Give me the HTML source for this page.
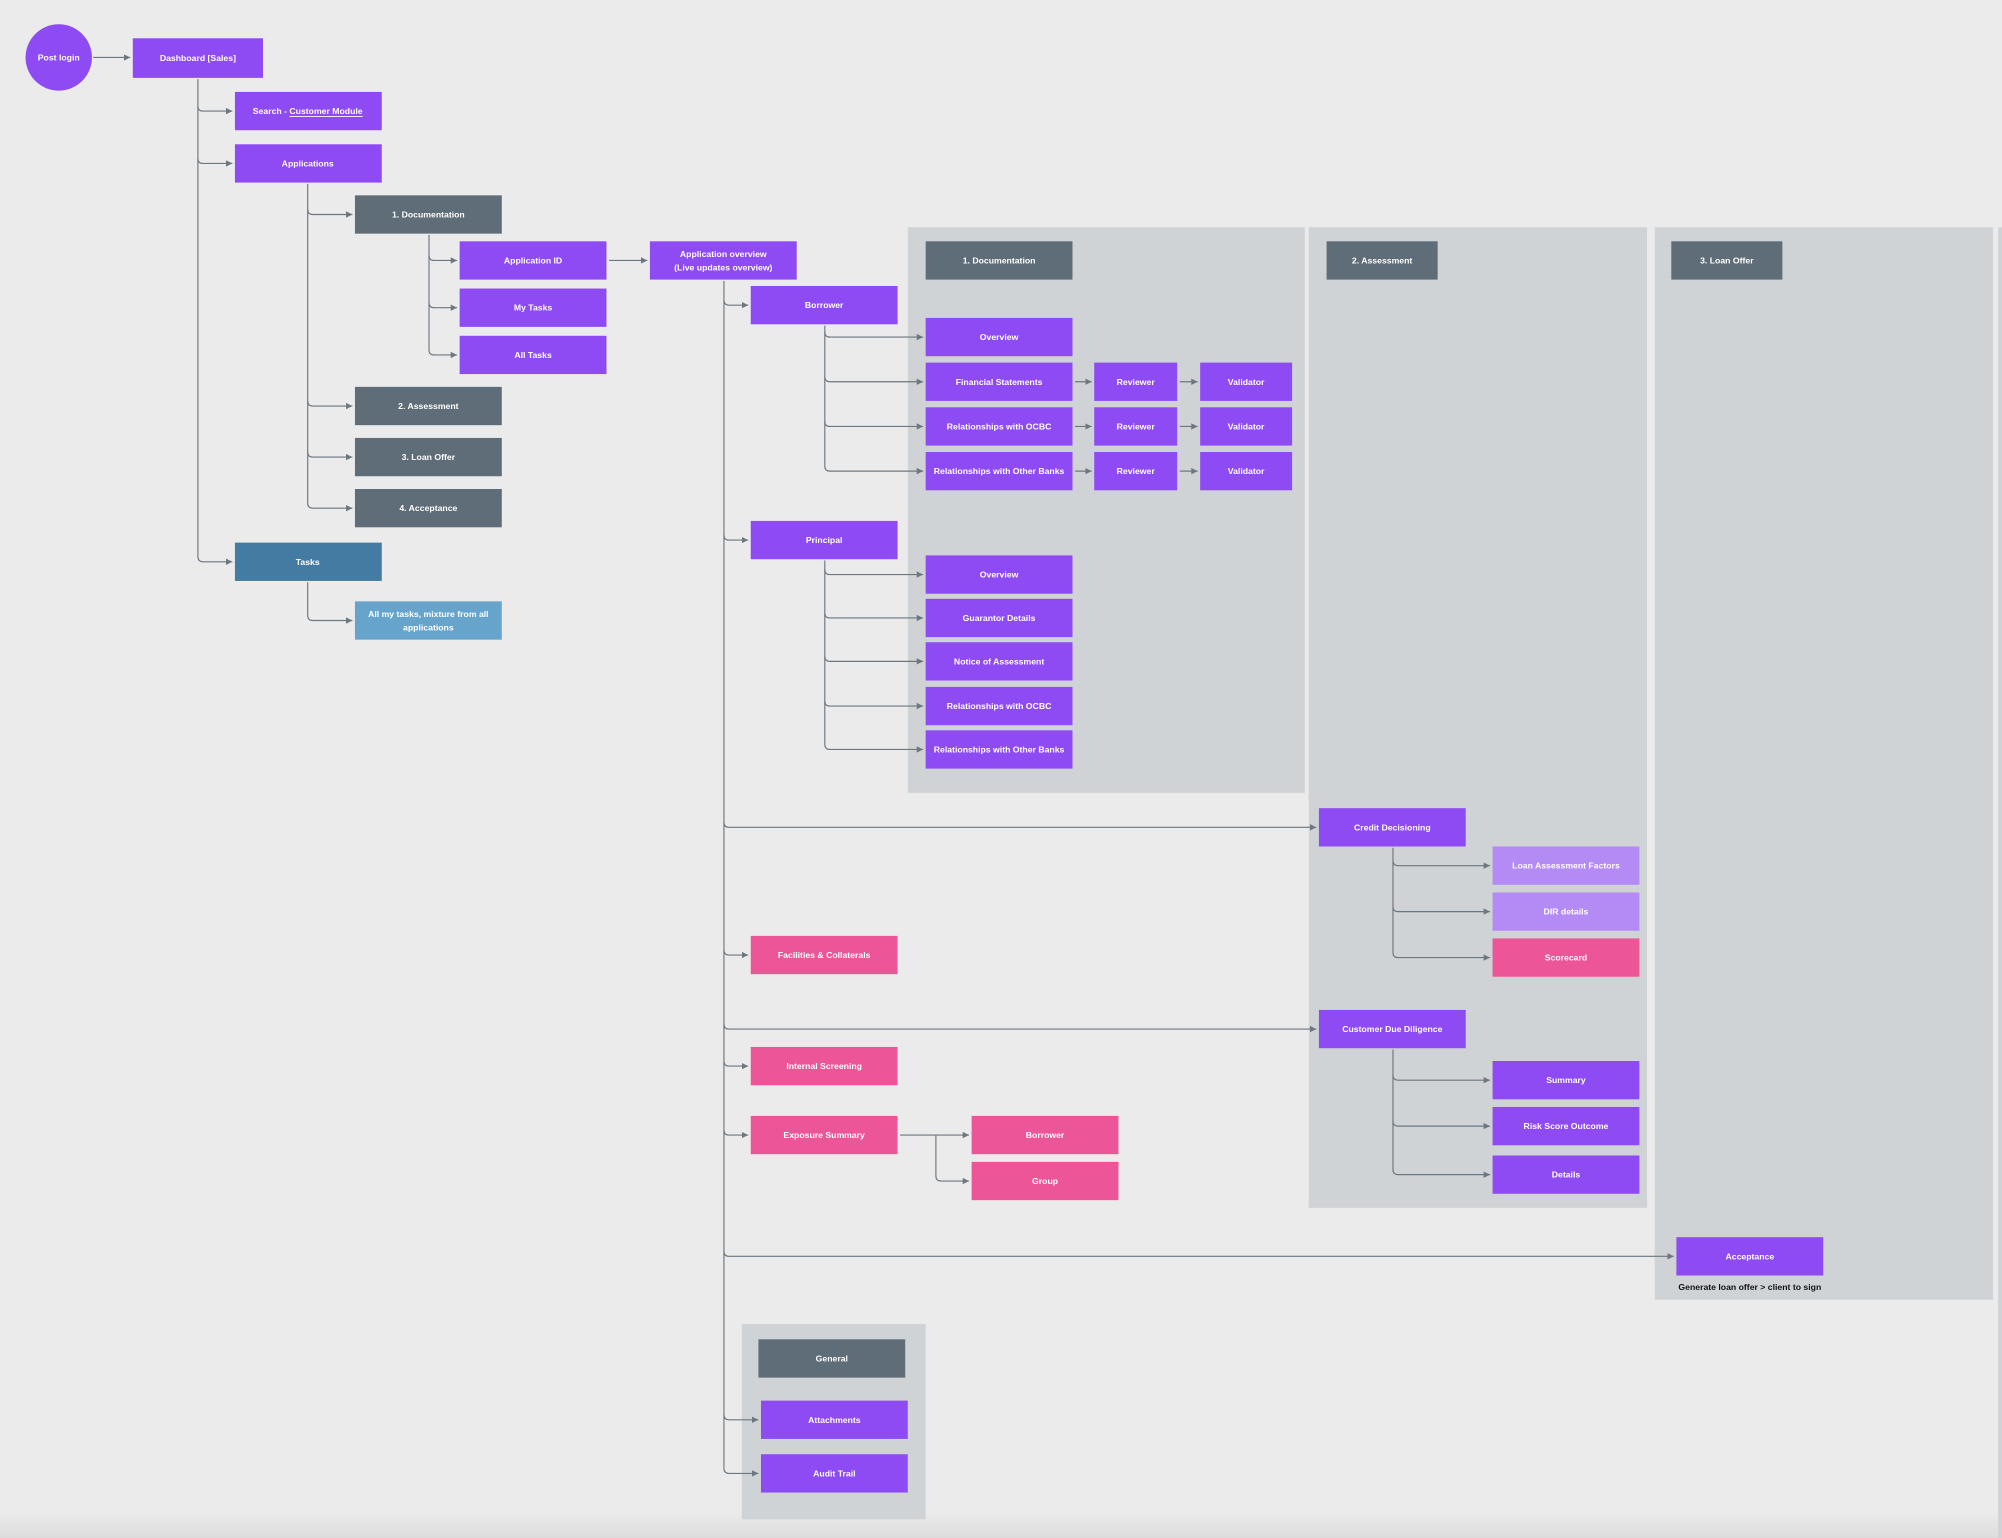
<!DOCTYPE html>
<html><head><meta charset="utf-8"><style>
html,body{margin:0;padding:0;background:#ebebeb;}
svg{display:block}
text{font-family:"Liberation Sans",sans-serif;font-weight:bold;font-size:6.8px;fill:#fff;text-anchor:middle;dominant-baseline:central}
.c{fill:none;stroke:#6d7780;stroke-width:0.9;marker-end:url(#a)}
.v{fill:none;stroke:#6d7780;stroke-width:0.9}
.p{fill:#8e4af3}.g{fill:#5e6d78}.k{fill:#ec5598}.l{fill:#b48af5}
</style></head><body>
<svg width="2002" height="1538" viewBox="0 0 1568 1204.6" xmlns="http://www.w3.org/2000/svg">
<defs><marker id="a" markerWidth="6" markerHeight="6" refX="5" refY="3" orient="auto" markerUnits="userSpaceOnUse"><path d="M0,0.5 L5,3 L0,5.5z" fill="#6d7780"/></marker>
<linearGradient id="sh" x1="0" y1="0" x2="0" y2="1"><stop offset="0" stop-color="#ebebeb"/><stop offset="1" stop-color="#dcdcdc"/></linearGradient></defs>
<rect width="1568" height="1205" fill="#ebebeb"/>
<rect y="1185" width="1568" height="20" fill="url(#sh)"/>
<!-- panels -->
<rect x="711" y="178" width="311" height="443" fill="#d0d3d6"/>
<rect x="1025" y="178" width="265" height="768" fill="#d0d3d6"/>
<rect x="1296" y="178" width="265" height="840" fill="#d0d3d6"/>
<rect x="1565" y="178" width="3" height="1027" fill="#d0d3d6"/>
<rect x="581" y="1037" width="144" height="153" fill="#d0d3d6"/>

<!-- connectors -->
<circle cx="46" cy="45" r="26" fill="#8e4af3"/>
<text x="46" y="45">Post login</text>
<path class="c" d="M73 45 H102"/>
<path class="v" d="M155 62 V436"/>
<path class="c" d="M155 83 Q155 87 159 87 H182"/>
<path class="c" d="M155 124 Q155 128 159 128 H182"/>
<path class="c" d="M155 436 Q155 440 159 440 H182"/>
<path class="v" d="M241 144 V394"/>
<path class="c" d="M241 164 Q241 168 245 168 H276"/>
<path class="c" d="M241 314 Q241 318 245 318 H276"/>
<path class="c" d="M241 354 Q241 358 245 358 H276"/>
<path class="c" d="M241 394 Q241 398 245 398 H276"/>
<path class="v" d="M336 184 V274"/>
<path class="c" d="M336 200 Q336 204 340 204 H358"/>
<path class="c" d="M336 237 Q336 241 340 241 H358"/>
<path class="c" d="M336 274 Q336 278 340 278 H358"/>
<path class="c" d="M241 456 V482 Q241 486 245 486 H276"/>
<path class="c" d="M477 204 H507"/>
<path class="v" d="M567 220 V1150"/>
<path class="c" d="M567 235 Q567 239 571 239 H586"/>
<path class="c" d="M567 419 Q567 423 571 423 H586"/>
<path class="c" d="M567 644 Q567 648 571 648 H1031"/>
<path class="c" d="M567 744 Q567 748 571 748 H586"/>
<path class="c" d="M567 802 Q567 806 571 806 H1031"/>
<path class="c" d="M567 831 Q567 835 571 835 H586"/>
<path class="c" d="M567 885 Q567 889 571 889 H586"/>
<path class="c" d="M567 980 Q567 984 571 984 H1311"/>
<path class="c" d="M567 1108 Q567 1112 571 1112 H594"/>
<path class="c" d="M567 1150 Q567 1154 571 1154 H594"/>
<path class="v" d="M646 255 V365"/>
<path class="c" d="M646 260 Q646 264 650 264 H723"/>
<path class="c" d="M646 295 Q646 299 650 299 H723"/>
<path class="c" d="M646 330 Q646 334 650 334 H723"/>
<path class="c" d="M646 365 Q646 369 650 369 H723"/>
<path class="c" d="M842 299 H855"/><path class="c" d="M924 299 H938"/>
<path class="c" d="M842 334 H855"/><path class="c" d="M924 334 H938"/>
<path class="c" d="M842 369 H855"/><path class="c" d="M924 369 H938"/>
<path class="v" d="M646 439 V583"/>
<path class="c" d="M646 446 Q646 450 650 450 H723"/>
<path class="c" d="M646 480 Q646 484 650 484 H723"/>
<path class="c" d="M646 514 Q646 518 650 518 H723"/>
<path class="c" d="M646 549 Q646 553 650 553 H723"/>
<path class="c" d="M646 583 Q646 587 650 587 H723"/>
<path class="v" d="M1091 664 V746"/>
<path class="c" d="M1091 674 Q1091 678 1095 678 H1167"/>
<path class="c" d="M1091 710 Q1091 714 1095 714 H1167"/>
<path class="c" d="M1091 746 Q1091 750 1095 750 H1167"/>
<path class="v" d="M1091 822 V916"/>
<path class="c" d="M1091 842 Q1091 846 1095 846 H1167"/>
<path class="c" d="M1091 878 Q1091 882 1095 882 H1167"/>
<path class="c" d="M1091 916 Q1091 920 1095 920 H1167"/>
<path class="c" d="M705 889 H759"/>
<path class="c" d="M733 889 V921 Q733 925 737 925 H759"/>

<!-- boxes -->
<rect class="p" x="104" y="30" width="102" height="31"/><text x="155" y="45.5">Dashboard [Sales]</text>
<rect class="p" x="184" y="72" width="115" height="30"/><text x="241" y="87">Search - <tspan text-decoration="underline">Customer Module</tspan></text>
<rect class="p" x="184" y="113" width="115" height="30"/><text x="241" y="128">Applications</text>
<rect class="g" x="278" y="153" width="115" height="30"/><text x="335.5" y="168">1. Documentation</text>
<rect class="p" x="360" y="189" width="115" height="30"/><text x="417.5" y="204">Application ID</text>
<rect class="p" x="360" y="226" width="115" height="30"/><text x="417.5" y="241">My Tasks</text>
<rect class="p" x="360" y="263" width="115" height="30"/><text x="417.5" y="278">All Tasks</text>
<rect class="g" x="278" y="303" width="115" height="30"/><text x="335.5" y="318">2. Assessment</text>
<rect class="g" x="278" y="343" width="115" height="30"/><text x="335.5" y="358">3. Loan Offer</text>
<rect class="g" x="278" y="383" width="115" height="30"/><text x="335.5" y="398">4. Acceptance</text>
<rect fill="#437ba3" x="184" y="425" width="115" height="30"/><text x="241" y="440">Tasks</text>
<rect fill="#66a4cc" x="278" y="471" width="115" height="30"/><text x="335.5" y="481">All my tasks, mixture from all</text><text x="335.5" y="491.5">applications</text>
<rect class="p" x="509" y="189" width="115" height="30"/><text x="566.5" y="199">Application overview</text><text x="566.5" y="209.5">(Live updates overview)</text>
<rect class="p" x="588" y="224" width="115" height="30"/><text x="645.5" y="239">Borrower</text>
<rect class="p" x="588" y="408" width="115" height="30"/><text x="645.5" y="423">Principal</text>
<rect class="g" x="725" y="189" width="115" height="30"/><text x="782.5" y="204">1. Documentation</text>
<rect class="g" x="1039" y="189" width="87" height="30"/><text x="1082.5" y="204">2. Assessment</text>
<rect class="g" x="1309" y="189" width="87" height="30"/><text x="1352.5" y="204">3. Loan Offer</text>
<rect class="p" x="725" y="249" width="115" height="30"/><text x="782.5" y="264">Overview</text>
<rect class="p" x="725" y="284" width="115" height="30"/><text x="782.5" y="299">Financial Statements</text>
<rect class="p" x="725" y="319" width="115" height="30"/><text x="782.5" y="334">Relationships with OCBC</text>
<rect class="p" x="725" y="354" width="115" height="30"/><text x="782.5" y="369">Relationships with Other Banks</text>
<rect class="p" x="857" y="284" width="65" height="30"/><text x="889.5" y="299">Reviewer</text>
<rect class="p" x="857" y="319" width="65" height="30"/><text x="889.5" y="334">Reviewer</text>
<rect class="p" x="857" y="354" width="65" height="30"/><text x="889.5" y="369">Reviewer</text>
<rect class="p" x="940" y="284" width="72" height="30"/><text x="976" y="299">Validator</text>
<rect class="p" x="940" y="319" width="72" height="30"/><text x="976" y="334">Validator</text>
<rect class="p" x="940" y="354" width="72" height="30"/><text x="976" y="369">Validator</text>
<rect class="p" x="725" y="435" width="115" height="30"/><text x="782.5" y="450">Overview</text>
<rect class="p" x="725" y="469" width="115" height="30"/><text x="782.5" y="484">Guarantor Details</text>
<rect class="p" x="725" y="503" width="115" height="30"/><text x="782.5" y="518">Notice of Assessment</text>
<rect class="p" x="725" y="538" width="115" height="30"/><text x="782.5" y="553">Relationships with OCBC</text>
<rect class="p" x="725" y="572" width="115" height="30"/><text x="782.5" y="587">Relationships with Other Banks</text>
<rect class="p" x="1033" y="633" width="115" height="30"/><text x="1090.5" y="648">Credit Decisioning</text>
<rect class="l" x="1169" y="663" width="115" height="30"/><text x="1226.5" y="678">Loan Assessment Factors</text>
<rect class="l" x="1169" y="699" width="115" height="30"/><text x="1226.5" y="714">DIR details</text>
<rect class="k" x="1169" y="735" width="115" height="30"/><text x="1226.5" y="750">Scorecard</text>
<rect class="k" x="588" y="733" width="115" height="30"/><text x="645.5" y="748">Facilities &amp; Collaterals</text>
<rect class="p" x="1033" y="791" width="115" height="30"/><text x="1090.5" y="806">Customer Due Diligence</text>
<rect class="p" x="1169" y="831" width="115" height="30"/><text x="1226.5" y="846">Summary</text>
<rect class="p" x="1169" y="867" width="115" height="30"/><text x="1226.5" y="882">Risk Score Outcome</text>
<rect class="p" x="1169" y="905" width="115" height="30"/><text x="1226.5" y="920">Details</text>
<rect class="k" x="588" y="820" width="115" height="30"/><text x="645.5" y="835">Internal Screening</text>
<rect class="k" x="588" y="874" width="115" height="30"/><text x="645.5" y="889">Exposure Summary</text>
<rect class="k" x="761" y="874" width="115" height="30"/><text x="818.5" y="889">Borrower</text>
<rect class="k" x="761" y="910" width="115" height="30"/><text x="818.5" y="925">Group</text>
<rect class="p" x="1313" y="969" width="115" height="30"/><text x="1370.5" y="984">Acceptance</text>
<text x="1370.5" y="1008" style="fill:#111">Generate loan offer &gt; client to sign</text>
<rect class="g" x="594" y="1049" width="115" height="30"/><text x="651.5" y="1064">General</text>
<rect class="p" x="596" y="1097" width="115" height="30"/><text x="653.5" y="1112">Attachments</text>
<rect class="p" x="596" y="1139" width="115" height="30"/><text x="653.5" y="1154">Audit Trail</text>
</svg>
</body></html>
